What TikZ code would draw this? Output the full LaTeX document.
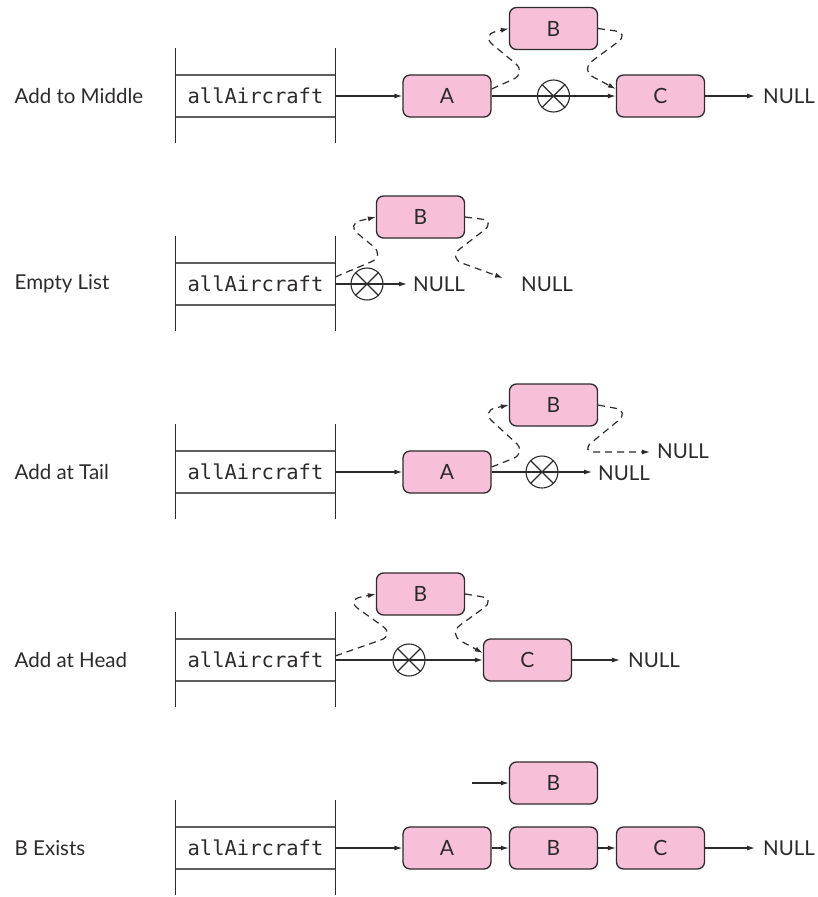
\documentclass[tikz,border=0pt]{standalone}
\usepackage{fontspec}
\setmainfont{Lato}
\setmonofont{DejaVu Sans Mono}
\usetikzlibrary{arrows.meta}
\definecolor{nodepink}{RGB}{247,192,216}
\definecolor{edgec}{RGB}{45,42,43}
\definecolor{ptrgray}{RGB}{95,95,95}
\tikzset{
  lnode/.style={draw=edgec, line width=1.3pt, fill=nodepink, rounded corners=7pt,
    minimum width=88pt, minimum height=42pt, inner sep=0pt, font=\fontsize{21}{24}\selectfont, text=edgec},
  ptr/.style={minimum width=159pt, minimum height=42pt, inner sep=0pt,
    font=\ttfamily\fontsize{20.5}{24}\selectfont, text=edgec},
  ptrline/.style={draw=ptrgray, line width=1.8pt},
  vline/.style={draw=edgec, line width=1.1pt},
  lbl/.style={anchor=west, inner sep=0pt, font=\fontsize{20.5}{24}\selectfont, text=edgec},
  nulltxt/.style={anchor=west, inner sep=0pt, font=\fontsize{20.5}{24}\selectfont, text=edgec},
  xcirc/.style={draw=edgec, circle, minimum size=32pt, inner sep=0pt, line width=1.1pt},
  xmark/.style={draw=edgec, line width=1.1pt},
  link/.style={draw=edgec, line width=1.2pt, -{Latex[length=8pt,width=5pt]}},
  dlink/.style={link, dash pattern=on 7pt off 5pt, rounded corners=15pt},
}
\begin{document}
\begin{tikzpicture}[x=1pt,y=-1pt]
\useasboundingbox (0,0) rectangle (817,897);

% ---------------- Row 1: Add to Middle ----------------
\begin{scope}[shift={(0,96)}]
\node[lbl] (l1) at (14.5,0) {Add to Middle};
\node[ptr] (p1) at (255.5,0) {allAircraft};
\draw[ptrline] (p1.north west) -- (p1.north east) (p1.south west) -- (p1.south east);
\draw[vline] ([yshift=27pt]p1.north west) -- ([yshift=-26pt]p1.south west);
\draw[vline] ([yshift=27pt]p1.north east) -- ([yshift=-26pt]p1.south east);
\node[lnode] (a1) at (447,0) {A};
\node[lnode] (b1) at (553.5,-67.5) {B};
\node[lnode] (c1) at (660.5,0) {C};
\node[nulltxt] (n1) at (763,0) {NULL};
\node[xcirc] (x1) at (553.5,0) {};
\draw[xmark] (x1.45) -- (x1.225) (x1.135) -- (x1.315);
\draw[link] (p1.east) -- (a1.west);
\draw[link] (a1.east) -- (c1.west);
\draw[link, shorten >=8pt] (c1.east) -- (n1.west);
\draw[dlink] ([yshift=7pt]a1.east) -- (527,-23) -- (481,-61) -- (b1.west);
\draw[dlink] (b1.east) -- (630,-63) -- (580,-26) -- ([yshift=7pt]c1.west);
\end{scope}

% ---------------- Row 2: Empty List ----------------
\begin{scope}[shift={(0,284)}]
\node[lbl] (l2) at (14.5,0) {Empty List};
\node[ptr] (p2) at (255.5,0) {allAircraft};
\draw[ptrline] (p2.north west) -- (p2.north east) (p2.south west) -- (p2.south east);
\draw[vline] ([yshift=27pt]p2.north west) -- ([yshift=-26pt]p2.south west);
\draw[vline] ([yshift=27pt]p2.north east) -- ([yshift=-26pt]p2.south east);
\node[lnode] (b2) at (420.5,-67) {B};
\node[nulltxt] (n2a) at (413,0) {NULL};
\node[nulltxt] (n2b) at (521,0) {NULL};
\coordinate (e2) at (503,-6);
\node[xcirc] (x2) at (367,0) {};
\draw[xmark] (x2.45) -- (x2.225) (x2.135) -- (x2.315);
\draw[link, shorten >=6pt] (p2.east) -- (n2a.west);
\draw[dlink] ([yshift=7pt]p2.east) -- (385,-28) -- (346,-60) -- (b2.west);
\draw[dlink] (b2.east) -- (496,-63) -- (448,-26) -- (e2);
\end{scope}

% ---------------- Row 3: Add at Tail ----------------
\begin{scope}[shift={(0,472)}]
\node[lbl] (l3) at (14.5,0) {Add at Tail};
\node[ptr] (p3) at (255.5,0) {allAircraft};
\draw[ptrline] (p3.north west) -- (p3.north east) (p3.south west) -- (p3.south east);
\draw[vline] ([yshift=27pt]p3.north west) -- ([yshift=-26pt]p3.south west);
\draw[vline] ([yshift=27pt]p3.north east) -- ([yshift=-26pt]p3.south east);
\node[lnode] (a3) at (447,0) {A};
\node[lnode] (b3) at (553.5,-67) {B};
\node[nulltxt] (n3a) at (598,1) {NULL};
\node[nulltxt] (n3b) at (657,-21) {NULL};
\node[xcirc] (x3) at (542,0) {};
\draw[xmark] (x3.45) -- (x3.225) (x3.135) -- (x3.315);
\draw[link] (p3.east) -- (a3.west);
\draw[link, shorten >=6pt] (a3.east) -- (a3.east -| n3a.west);
\draw[dlink] ([yshift=5pt]a3.east) -- (527,-19) -- (481,-61) -- (b3.west);
\draw[dlink, shorten >=7pt] (b3.east) -- (630,-61) -- (580,-20) -- (n3b.west |- 0,-20);
\end{scope}

% ---------------- Row 4: Add at Head ----------------
\begin{scope}[shift={(0,660)}]
\node[lbl] (l4) at (14.5,0) {Add at Head};
\node[ptr] (p4) at (255.5,0) {allAircraft};
\draw[ptrline] (p4.north west) -- (p4.north east) (p4.south west) -- (p4.south east);
\draw[vline] ([yshift=27pt]p4.north west) -- ([yshift=-26pt]p4.south west);
\draw[vline] ([yshift=27pt]p4.north east) -- ([yshift=-26pt]p4.south east);
\node[lnode] (b4) at (420.5,-66) {B};
\node[lnode] (c4) at (527.5,0) {C};
\node[nulltxt] (n4) at (628,0) {NULL};
\node[xcirc] (x4) at (409,0) {};
\draw[xmark] (x4.45) -- (x4.225) (x4.135) -- (x4.315);
\draw[link] (p4.east) -- (c4.west);
\draw[link, shorten >=8pt] (c4.east) -- (n4.west);
\draw[dlink] ([yshift=4pt]p4.east) -- (395,-25) -- (346,-60) -- (b4.west);
\draw[dlink] (b4.east) -- (496,-61) -- (448,-26) -- ([yshift=7pt]c4.west);
\end{scope}

% ---------------- Row 5: B Exists ----------------
\begin{scope}[shift={(0,848)}]
\node[lbl] (l5) at (14.5,0) {B Exists};
\node[ptr] (p5) at (255.5,0) {allAircraft};
\draw[ptrline] (p5.north west) -- (p5.north east) (p5.south west) -- (p5.south east);
\draw[vline] ([yshift=27pt]p5.north west) -- ([yshift=-26pt]p5.south west);
\draw[vline] ([yshift=27pt]p5.north east) -- ([yshift=-26pt]p5.south east);
\node[lnode] (a5) at (447,0) {A};
\node[lnode] (b5) at (553.5,0) {B};
\node[lnode] (c5) at (660.5,0) {C};
\node[lnode] (bt5) at (553.5,-65) {B};
\node[nulltxt] (n5) at (763,0) {NULL};
\coordinate (s5) at (472,-65);
\draw[link] (s5) -- (bt5.west);
\draw[link] (p5.east) -- (a5.west);
\draw[link] (a5.east) -- (b5.west);
\draw[link] (b5.east) -- (c5.west);
\draw[link, shorten >=8pt] (c5.east) -- (n5.west);
\end{scope}
\end{tikzpicture}
\end{document}
